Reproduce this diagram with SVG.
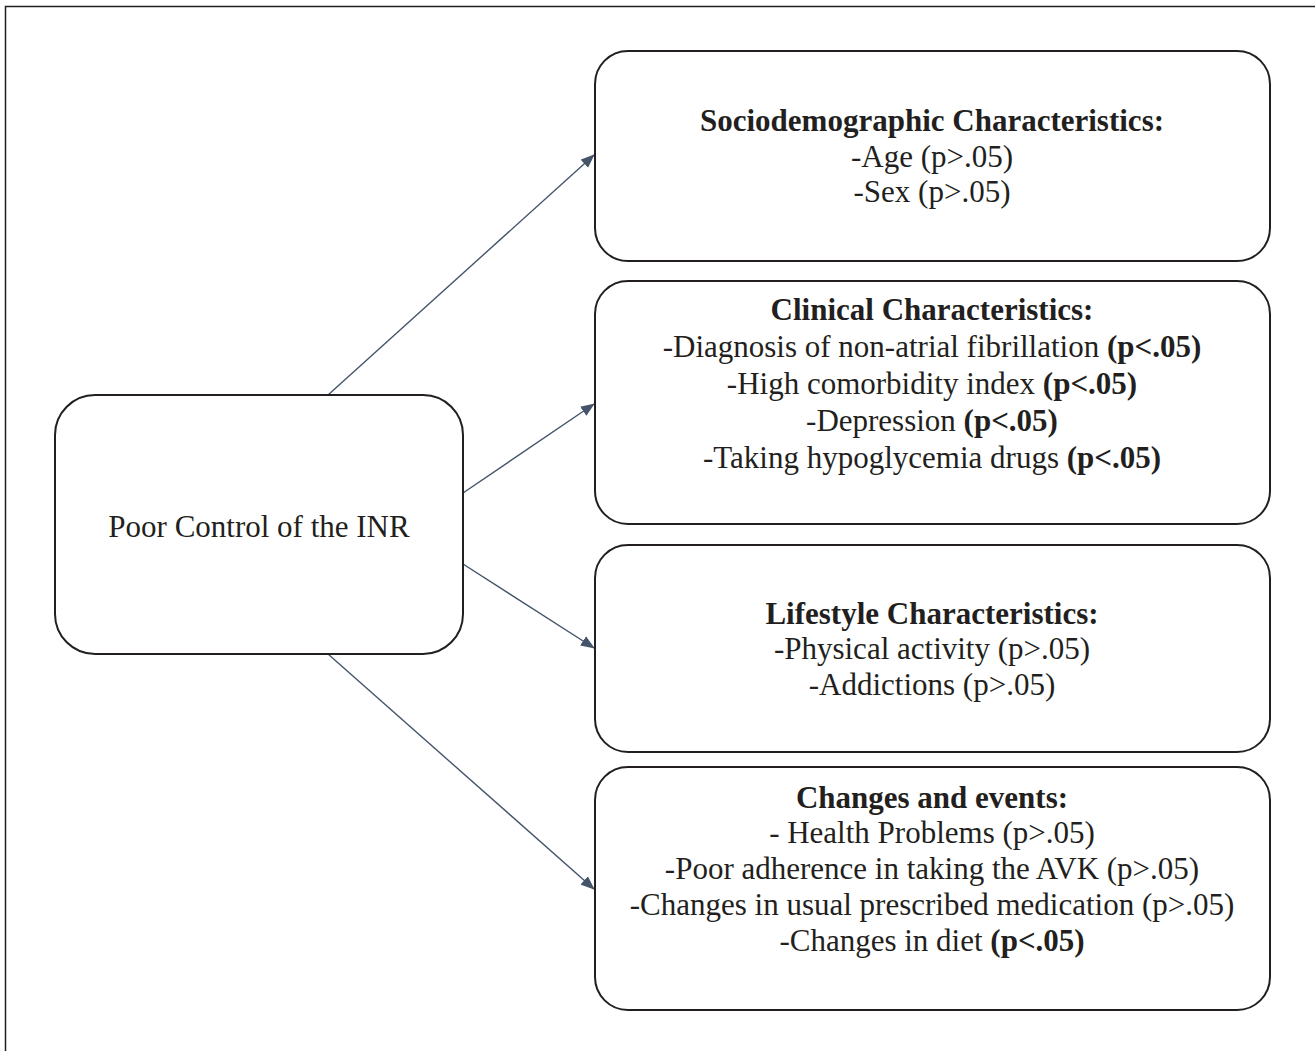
<svg xmlns="http://www.w3.org/2000/svg" width="1315" height="1051" viewBox="0 0 1315 1051">
<defs>
<style>
.box{fill:#fff;stroke:#231f20;stroke-width:2}
.t{font-family:"Liberation Serif","Times New Roman",serif;font-size:31px;fill:#231f20;text-anchor:middle}
.b{font-weight:bold}
.conn{stroke:#44546a;stroke-width:1.4;fill:none;marker-end:url(#ah)}
</style>
<marker id="ah" markerUnits="userSpaceOnUse" markerWidth="14" markerHeight="12" refX="13" refY="5.5" orient="auto" viewBox="0 0 14 11">
<path d="M0,0 L14,5.5 L0,11 Z" fill="#44546a"/>
</marker>
</defs>
<rect width="1315" height="1051" fill="#fff"/>
<rect x="5.5" y="6.5" width="1330" height="1070" fill="none" stroke="#231f20" stroke-width="1.5"/>
<g id="connectors">
<line class="conn" x1="328" y1="395" x2="594" y2="155"/>
<line class="conn" x1="463" y1="493" x2="594" y2="404"/>
<line class="conn" x1="463" y1="564" x2="594" y2="648"/>
<line class="conn" x1="328" y1="654" x2="594" y2="889"/>
</g>
<g id="poor-control">
<rect class="box" x="55" y="395" width="408" height="259" rx="40"/>
<text class="t" x="259" y="537">Poor Control of the INR</text>
</g>
<g id="sociodemographic">
<rect class="box" x="595" y="51" width="675" height="210" rx="33"/>
<text class="t b" x="932" y="131">Sociodemographic Characteristics:</text>
<text class="t" x="932" y="166.5">-Age (p&gt;.05)</text>
<text class="t" x="932" y="202">-Sex (p&gt;.05)</text>
</g>
<g id="clinical">
<rect class="box" x="595" y="281" width="675" height="243" rx="33"/>
<text class="t b" x="932" y="320">Clinical Characteristics:</text>
<text class="t" x="932" y="357">-Diagnosis of non-atrial fibrillation <tspan class="b">(p&lt;.05)</tspan></text>
<text class="t" x="932" y="394">-High comorbidity index <tspan class="b">(p&lt;.05)</tspan></text>
<text class="t" x="932" y="431">-Depression <tspan class="b">(p&lt;.05)</tspan></text>
<text class="t" x="932" y="468">-Taking hypoglycemia drugs <tspan class="b">(p&lt;.05)</tspan></text>
</g>
<g id="lifestyle">
<rect class="box" x="595" y="545" width="675" height="207" rx="33"/>
<text class="t b" x="932" y="623.5">Lifestyle Characteristics:</text>
<text class="t" x="932" y="659">-Physical activity (p&gt;.05)</text>
<text class="t" x="932" y="694.5">-Addictions (p&gt;.05)</text>
</g>
<g id="changes">
<rect class="box" x="595" y="767" width="675" height="243" rx="33"/>
<text class="t b" x="932" y="808">Changes and events:</text>
<text class="t" x="932" y="843">- Health Problems (p&gt;.05)</text>
<text class="t" x="932" y="879">-Poor adherence in taking the AVK (p&gt;.05)</text>
<text class="t" x="932" y="915">-Changes in usual prescribed medication (p&gt;.05)</text>
<text class="t" x="932" y="951">-Changes in diet <tspan class="b">(p&lt;.05)</tspan></text>
</g>
</svg>
